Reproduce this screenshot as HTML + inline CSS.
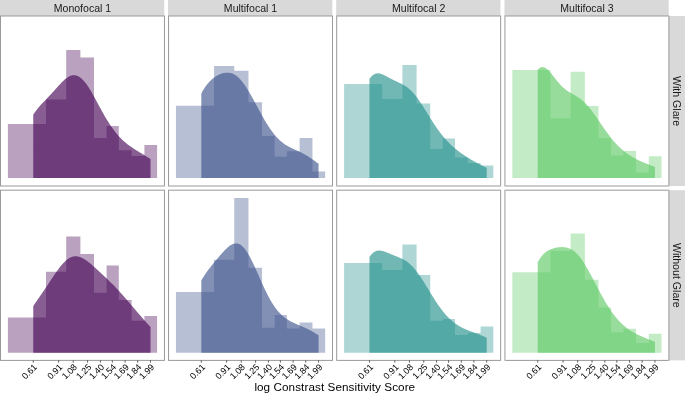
<!DOCTYPE html><html><head><meta charset="utf-8"><style>html,body{margin:0;padding:0;background:#fff}svg{display:block}text{font-family:"Liberation Sans",sans-serif}</style></head><body>
<svg width="685" height="394" viewBox="0 0 685 394">
<rect x="0" y="0" width="685" height="394" fill="#fff"/>
<rect x="0" y="0" width="164.25" height="16" fill="#d9d9d9"/>
<rect x="168.05" y="0" width="164.25" height="16" fill="#d9d9d9"/>
<rect x="336.2" y="0" width="164.25" height="16" fill="#d9d9d9"/>
<rect x="504.45" y="0" width="164.25" height="16" fill="#d9d9d9"/>
<rect x="668.9" y="16" width="16.1" height="170" fill="#d9d9d9"/>
<rect x="668.9" y="190.2" width="16.1" height="170.2" fill="#d9d9d9"/>
<path d="M7.9,178.05L7.9,124L46,124L46,99.6L66.2,99.6L66.2,49.9L80.4,49.9L80.4,57.6L94,57.6L94,137.9L106.6,137.9L106.6,126.1L118.8,126.1L118.8,150.3L131.6,150.3L131.6,155.9L144.4,155.9L144.4,145L157.1,145L157.1,178.05Z" fill="#440154" fill-opacity="0.37"/>
<path d="M33.26,178.05L33.26,114.54L34,113.46L34.73,112.41L35.47,111.4L36.21,110.42L36.95,109.47L37.68,108.55L38.42,107.65L39.16,106.78L39.9,105.93L40.63,105.11L41.37,104.3L42.11,103.5L42.85,102.71L43.58,101.94L44.32,101.17L45.06,100.4L45.8,99.64L46.53,98.88L47.27,98.12L48.01,97.35L48.74,96.58L49.48,95.8L50.22,95.02L50.96,94.22L51.69,93.43L52.43,92.62L53.17,91.81L53.91,90.99L54.64,90.17L55.38,89.34L56.12,88.52L56.86,87.69L57.59,86.86L58.33,86.04L59.07,85.23L59.8,84.43L60.54,83.64L61.28,82.87L62.02,82.11L62.75,81.38L63.49,80.67L64.23,80L64.97,79.35L65.7,78.74L66.44,78.17L67.18,77.64L67.92,77.15L68.65,76.72L69.39,76.33L70.13,75.99L70.87,75.71L71.6,75.49L72.34,75.32L73.08,75.22L73.81,75.18L74.55,75.2L75.29,75.28L76.03,75.43L76.76,75.64L77.5,75.92L78.24,76.27L78.98,76.67L79.71,77.15L80.45,77.68L81.19,78.28L81.93,78.94L82.66,79.66L83.4,80.43L84.14,81.26L84.88,82.15L85.61,83.08L86.35,84.07L87.09,85.1L87.82,86.18L88.56,87.29L89.3,88.44L90.04,89.63L90.77,90.85L91.51,92.1L92.25,93.38L92.99,94.68L93.72,95.99L94.46,97.33L95.2,98.68L95.94,100.03L96.67,101.4L97.41,102.77L98.15,104.14L98.88,105.51L99.62,106.88L100.36,108.24L101.1,109.6L101.83,110.94L102.57,112.28L103.31,113.59L104.05,114.9L104.78,116.18L105.52,117.45L106.26,118.69L107,119.92L107.73,121.12L108.47,122.3L109.21,123.46L109.95,124.59L110.68,125.69L111.42,126.77L112.16,127.83L112.89,128.86L113.63,129.86L114.37,130.84L115.11,131.79L115.84,132.71L116.58,133.61L117.32,134.49L118.06,135.34L118.79,136.16L119.53,136.96L120.27,137.74L121.01,138.5L121.74,139.23L122.48,139.94L123.22,140.63L123.96,141.3L124.69,141.95L125.43,142.59L126.17,143.2L126.9,143.8L127.64,144.38L128.38,144.95L129.12,145.5L129.85,146.04L130.59,146.56L131.33,147.08L132.07,147.58L132.8,148.07L133.54,148.55L134.28,149.03L135.02,149.5L135.75,149.96L136.49,150.42L137.23,150.87L137.96,151.32L138.7,151.76L139.44,152.21L140.18,152.65L140.91,153.09L141.65,153.54L142.39,153.98L143.13,154.43L143.86,154.87L144.6,155.32L145.34,155.78L146.08,156.24L146.81,156.7L147.55,157.16L148.29,157.63L149.03,158.1L149.76,158.58L150.5,159.06L150.5,178.05Z" fill="#440154" fill-opacity="0.64"/>
<path d="M0.5,15.5V186.5M164.45,15.5V186.5M1,16H163.95M1,186H163.95" fill="none" stroke="#999999" stroke-width="1.0"/>
<path d="M175.95,178.05L175.95,105.7L214.05,105.7L214.05,66.1L234.25,66.1L234.25,70.7L248.45,70.7L248.45,102.3L262.05,102.3L262.05,136.1L274.65,136.1L274.65,156.8L286.85,156.8L286.85,151.2L299.65,151.2L299.65,138L312.45,138L312.45,171.6L325.15,171.6L325.15,178.05Z" fill="#3B528B" fill-opacity="0.37"/>
<path d="M201.31,178.05L201.31,93.48L202.05,92.13L202.78,90.83L203.52,89.6L204.26,88.43L205,87.31L205.73,86.25L206.47,85.25L207.21,84.3L207.95,83.4L208.68,82.55L209.42,81.75L210.16,80.99L210.9,80.27L211.63,79.6L212.37,78.97L213.11,78.37L213.85,77.8L214.58,77.27L215.32,76.77L216.06,76.3L216.79,75.86L217.53,75.45L218.27,75.06L219.01,74.71L219.74,74.37L220.48,74.07L221.22,73.79L221.96,73.54L222.69,73.32L223.43,73.12L224.17,72.96L224.91,72.83L225.64,72.73L226.38,72.66L227.12,72.63L227.85,72.64L228.59,72.69L229.33,72.77L230.07,72.9L230.8,73.07L231.54,73.29L232.28,73.55L233.02,73.86L233.75,74.21L234.49,74.61L235.23,75.07L235.97,75.57L236.7,76.12L237.44,76.72L238.18,77.36L238.92,78.06L239.65,78.81L240.39,79.6L241.13,80.44L241.86,81.32L242.6,82.25L243.34,83.22L244.08,84.23L244.81,85.28L245.55,86.36L246.29,87.48L247.03,88.63L247.76,89.82L248.5,91.03L249.24,92.26L249.98,93.52L250.71,94.81L251.45,96.11L252.19,97.42L252.93,98.75L253.66,100.1L254.4,101.45L255.14,102.81L255.87,104.17L256.61,105.54L257.35,106.91L258.09,108.28L258.82,109.64L259.56,110.99L260.3,112.34L261.04,113.68L261.77,115.01L262.51,116.32L263.25,117.62L263.99,118.91L264.72,120.17L265.46,121.42L266.2,122.64L266.93,123.84L267.67,125.02L268.41,126.17L269.15,127.3L269.88,128.4L270.62,129.48L271.36,130.52L272.1,131.53L272.83,132.52L273.57,133.48L274.31,134.4L275.05,135.29L275.78,136.16L276.52,136.99L277.26,137.79L278,138.56L278.73,139.29L279.47,140L280.21,140.68L280.94,141.33L281.68,141.95L282.42,142.55L283.16,143.11L283.89,143.65L284.63,144.17L285.37,144.67L286.11,145.14L286.84,145.59L287.58,146.02L288.32,146.44L289.06,146.84L289.79,147.22L290.53,147.59L291.27,147.96L292.01,148.31L292.74,148.65L293.48,148.99L294.22,149.32L294.95,149.65L295.69,149.98L296.43,150.31L297.17,150.64L297.9,150.98L298.64,151.32L299.38,151.66L300.12,152.01L300.85,152.37L301.59,152.74L302.33,153.11L303.07,153.5L303.8,153.89L304.54,154.3L305.28,154.72L306.01,155.14L306.75,155.58L307.49,156.03L308.23,156.49L308.96,156.97L309.7,157.45L310.44,157.94L311.18,158.44L311.91,158.95L312.65,159.47L313.39,159.99L314.13,160.52L314.86,161.05L315.6,161.59L316.34,162.13L317.08,162.67L317.81,163.21L318.55,163.75L318.55,178.05Z" fill="#3B528B" fill-opacity="0.64"/>
<path d="M168.55,15.5V186.5M332.5,15.5V186.5M169.05,16H332M169.05,186H332" fill="none" stroke="#999999" stroke-width="1.0"/>
<path d="M344.1,178.05L344.1,83.9L382.2,83.9L382.2,98.9L402.4,98.9L402.4,64.9L416.6,64.9L416.6,103.5L430.2,103.5L430.2,149L442.8,149L442.8,138.4L455,138.4L455,157.6L467.8,157.6L467.8,163.1L480.6,163.1L480.6,165.5L493.3,165.5L493.3,178.05Z" fill="#21908C" fill-opacity="0.37"/>
<path d="M369.46,178.05L369.46,78.99L370.2,77.98L370.93,77.08L371.67,76.28L372.41,75.59L373.15,74.99L373.88,74.5L374.62,74.1L375.36,73.78L376.1,73.56L376.83,73.41L377.57,73.34L378.31,73.34L379.05,73.4L379.78,73.52L380.52,73.69L381.26,73.91L382,74.17L382.73,74.47L383.47,74.79L384.21,75.14L384.94,75.51L385.68,75.89L386.42,76.29L387.16,76.69L387.89,77.09L388.63,77.5L389.37,77.9L390.11,78.3L390.84,78.69L391.58,79.08L392.32,79.46L393.06,79.83L393.79,80.2L394.53,80.55L395.27,80.91L396,81.25L396.74,81.6L397.48,81.94L398.22,82.28L398.95,82.63L399.69,82.98L400.43,83.33L401.17,83.7L401.9,84.08L402.64,84.47L403.38,84.88L404.12,85.31L404.85,85.77L405.59,86.24L406.33,86.74L407.07,87.27L407.8,87.83L408.54,88.42L409.28,89.04L410.01,89.7L410.75,90.39L411.49,91.11L412.23,91.87L412.96,92.66L413.7,93.48L414.44,94.34L415.18,95.23L415.91,96.15L416.65,97.1L417.39,98.09L418.13,99.1L418.86,100.13L419.6,101.2L420.34,102.28L421.08,103.39L421.81,104.51L422.55,105.65L423.29,106.8L424.02,107.97L424.76,109.15L425.5,110.33L426.24,111.53L426.97,112.72L427.71,113.92L428.45,115.11L429.19,116.3L429.92,117.49L430.66,118.67L431.4,119.84L432.14,121.01L432.87,122.16L433.61,123.3L434.35,124.42L435.08,125.53L435.82,126.62L436.56,127.7L437.3,128.76L438.03,129.8L438.77,130.82L439.51,131.82L440.25,132.8L440.98,133.76L441.72,134.7L442.46,135.61L443.2,136.51L443.93,137.39L444.67,138.25L445.41,139.09L446.15,139.91L446.88,140.71L447.62,141.49L448.36,142.25L449.09,143L449.83,143.73L450.57,144.44L451.31,145.13L452.04,145.81L452.78,146.48L453.52,147.13L454.26,147.77L454.99,148.39L455.73,149L456.47,149.6L457.21,150.19L457.94,150.77L458.68,151.33L459.42,151.89L460.16,152.44L460.89,152.97L461.63,153.5L462.37,154.02L463.1,154.53L463.84,155.03L464.58,155.53L465.32,156.02L466.05,156.5L466.79,156.97L467.53,157.44L468.27,157.9L469,158.35L469.74,158.8L470.48,159.24L471.22,159.68L471.95,160.11L472.69,160.54L473.43,160.96L474.16,161.38L474.9,161.8L475.64,162.2L476.38,162.61L477.11,163.01L477.85,163.41L478.59,163.8L479.33,164.19L480.06,164.57L480.8,164.95L481.54,165.33L482.28,165.7L483.01,166.07L483.75,166.44L484.49,166.8L485.23,167.16L485.96,167.51L486.7,167.86L486.7,178.05Z" fill="#21908C" fill-opacity="0.64"/>
<path d="M336.7,15.5V186.5M500.65,15.5V186.5M337.2,16H500.15M337.2,186H500.15" fill="none" stroke="#999999" stroke-width="1.0"/>
<path d="M512.35,178.05L512.35,70L550.45,70L550.45,118.3L570.65,118.3L570.65,71.7L584.85,71.7L584.85,106L598.45,106L598.45,138.1L611.05,138.1L611.05,155.5L623.25,155.5L623.25,151.1L636.05,151.1L636.05,172.6L648.85,172.6L648.85,156.2L661.55,156.2L661.55,178.05Z" fill="#5DC863" fill-opacity="0.37"/>
<path d="M537.71,178.05L537.71,69.73L538.45,68.95L539.18,68.31L539.92,67.8L540.66,67.42L541.4,67.18L542.13,67.06L542.87,67.06L543.61,67.18L544.35,67.4L545.08,67.73L545.82,68.16L546.56,68.67L547.3,69.26L548.03,69.92L548.77,70.65L549.51,71.43L550.25,72.27L550.98,73.14L551.72,74.04L552.46,74.97L553.19,75.91L553.93,76.86L554.67,77.82L555.41,78.77L556.14,79.71L556.88,80.64L557.62,81.56L558.36,82.44L559.09,83.31L559.83,84.14L560.57,84.95L561.31,85.72L562.04,86.46L562.78,87.17L563.52,87.84L564.25,88.48L564.99,89.08L565.73,89.66L566.47,90.21L567.2,90.73L567.94,91.23L568.68,91.71L569.42,92.16L570.15,92.61L570.89,93.04L571.63,93.46L572.37,93.87L573.1,94.29L573.84,94.7L574.58,95.12L575.32,95.55L576.05,95.99L576.79,96.44L577.53,96.9L578.26,97.39L579,97.89L579.74,98.42L580.48,98.97L581.21,99.54L581.95,100.14L582.69,100.77L583.43,101.43L584.16,102.12L584.9,102.84L585.64,103.58L586.38,104.35L587.11,105.16L587.85,105.99L588.59,106.85L589.33,107.73L590.06,108.64L590.8,109.57L591.54,110.52L592.27,111.5L593.01,112.49L593.75,113.5L594.49,114.53L595.22,115.57L595.96,116.62L596.7,117.69L597.44,118.76L598.17,119.83L598.91,120.92L599.65,122L600.39,123.08L601.12,124.17L601.86,125.25L602.6,126.33L603.33,127.4L604.07,128.46L604.81,129.52L605.55,130.56L606.28,131.59L607.02,132.62L607.76,133.62L608.5,134.61L609.23,135.59L609.97,136.55L610.71,137.49L611.45,138.42L612.18,139.33L612.92,140.21L613.66,141.08L614.4,141.93L615.13,142.76L615.87,143.57L616.61,144.36L617.34,145.13L618.08,145.89L618.82,146.62L619.56,147.33L620.29,148.02L621.03,148.7L621.77,149.35L622.51,149.99L623.24,150.61L623.98,151.21L624.72,151.8L625.46,152.37L626.19,152.92L626.93,153.46L627.67,153.98L628.41,154.49L629.14,154.98L629.88,155.46L630.62,155.92L631.35,156.38L632.09,156.82L632.83,157.25L633.57,157.66L634.3,158.07L635.04,158.46L635.78,158.85L636.52,159.23L637.25,159.6L637.99,159.96L638.73,160.31L639.47,160.65L640.2,160.99L640.94,161.32L641.68,161.64L642.41,161.96L643.15,162.28L643.89,162.59L644.63,162.89L645.36,163.19L646.1,163.49L646.84,163.79L647.58,164.08L648.31,164.37L649.05,164.66L649.79,164.95L650.53,165.24L651.26,165.52L652,165.81L652.74,166.1L653.48,166.38L654.21,166.67L654.95,166.95L654.95,178.05Z" fill="#5DC863" fill-opacity="0.64"/>
<path d="M504.95,15.5V186.5M668.9,15.5V186.5M505.45,16H668.4M505.45,186H668.4" fill="none" stroke="#999999" stroke-width="1.0"/>
<path d="M7.9,352.65L7.9,317.6L46,317.6L46,271.8L66.2,271.8L66.2,236.5L80.4,236.5L80.4,254L94,254L94,292.7L106.6,292.7L106.6,265.6L118.8,265.6L118.8,300L131.6,300L131.6,320.7L144.4,320.7L144.4,316L157.1,316L157.1,352.65Z" fill="#440154" fill-opacity="0.37"/>
<path d="M33.26,352.65L33.26,306.05L34,304.96L34.73,303.87L35.47,302.79L36.21,301.72L36.95,300.64L37.68,299.57L38.42,298.5L39.16,297.44L39.9,296.37L40.63,295.3L41.37,294.22L42.11,293.15L42.85,292.07L43.58,290.99L44.32,289.9L45.06,288.81L45.8,287.72L46.53,286.62L47.27,285.52L48.01,284.41L48.74,283.3L49.48,282.19L50.22,281.07L50.96,279.96L51.69,278.85L52.43,277.74L53.17,276.63L53.91,275.53L54.64,274.44L55.38,273.36L56.12,272.3L56.86,271.25L57.59,270.22L58.33,269.2L59.07,268.21L59.8,267.25L60.54,266.32L61.28,265.41L62.02,264.54L62.75,263.7L63.49,262.9L64.23,262.14L64.97,261.42L65.7,260.74L66.44,260.11L67.18,259.52L67.92,258.98L68.65,258.49L69.39,258.05L70.13,257.65L70.87,257.31L71.6,257.02L72.34,256.77L73.08,256.58L73.81,256.44L74.55,256.35L75.29,256.3L76.03,256.31L76.76,256.36L77.5,256.45L78.24,256.59L78.98,256.77L79.71,256.99L80.45,257.25L81.19,257.55L81.93,257.89L82.66,258.26L83.4,258.66L84.14,259.08L84.88,259.54L85.61,260.03L86.35,260.53L87.09,261.06L87.82,261.61L88.56,262.18L89.3,262.76L90.04,263.36L90.77,263.98L91.51,264.6L92.25,265.24L92.99,265.88L93.72,266.53L94.46,267.19L95.2,267.85L95.94,268.52L96.67,269.19L97.41,269.87L98.15,270.54L98.88,271.22L99.62,271.91L100.36,272.59L101.1,273.27L101.83,273.96L102.57,274.65L103.31,275.34L104.05,276.03L104.78,276.73L105.52,277.42L106.26,278.12L107,278.82L107.73,279.53L108.47,280.24L109.21,280.96L109.95,281.67L110.68,282.4L111.42,283.13L112.16,283.86L112.89,284.61L113.63,285.35L114.37,286.11L115.11,286.87L115.84,287.64L116.58,288.42L117.32,289.2L118.06,289.99L118.79,290.79L119.53,291.59L120.27,292.4L121.01,293.22L121.74,294.05L122.48,294.87L123.22,295.71L123.96,296.55L124.69,297.39L125.43,298.24L126.17,299.1L126.9,299.95L127.64,300.81L128.38,301.67L129.12,302.53L129.85,303.4L130.59,304.26L131.33,305.13L132.07,305.99L132.8,306.86L133.54,307.72L134.28,308.59L135.02,309.45L135.75,310.31L136.49,311.17L137.23,312.03L137.96,312.89L138.7,313.74L139.44,314.6L140.18,315.45L140.91,316.3L141.65,317.14L142.39,317.98L143.13,318.82L143.86,319.66L144.6,320.49L145.34,321.33L146.08,322.15L146.81,322.98L147.55,323.8L148.29,324.62L149.03,325.43L149.76,326.24L150.5,327.05L150.5,352.65Z" fill="#440154" fill-opacity="0.64"/>
<path d="M0.5,189.7V360.9M164.45,189.7V360.9M1,190.2H163.95M1,360.4H163.95" fill="none" stroke="#999999" stroke-width="1.0"/>
<path d="M175.95,352.65L175.95,292.1L214.05,292.1L214.05,259.8L234.25,259.8L234.25,197.9L248.45,197.9L248.45,267.7L262.05,267.7L262.05,327.7L274.65,327.7L274.65,315.1L286.85,315.1L286.85,328.4L299.65,328.4L299.65,322.6L312.45,322.6L312.45,328.6L325.15,328.6L325.15,352.65Z" fill="#3B528B" fill-opacity="0.37"/>
<path d="M201.31,352.65L201.31,280.6L202.05,279.32L202.78,278.09L203.52,276.89L204.26,275.72L205,274.59L205.73,273.49L206.47,272.42L207.21,271.37L207.95,270.36L208.68,269.36L209.42,268.39L210.16,267.43L210.9,266.49L211.63,265.56L212.37,264.65L213.11,263.74L213.85,262.84L214.58,261.95L215.32,261.07L216.06,260.19L216.79,259.31L217.53,258.44L218.27,257.57L219.01,256.7L219.74,255.84L220.48,254.99L221.22,254.15L221.96,253.31L222.69,252.49L223.43,251.68L224.17,250.89L224.91,250.11L225.64,249.37L226.38,248.64L227.12,247.95L227.85,247.3L228.59,246.68L229.33,246.1L230.07,245.57L230.8,245.09L231.54,244.66L232.28,244.29L233.02,243.97L233.75,243.73L234.49,243.54L235.23,243.43L235.97,243.39L236.7,243.42L237.44,243.53L238.18,243.71L238.92,243.98L239.65,244.32L240.39,244.75L241.13,245.25L241.86,245.83L242.6,246.5L243.34,247.24L244.08,248.05L244.81,248.95L245.55,249.91L246.29,250.95L247.03,252.05L247.76,253.22L248.5,254.45L249.24,255.74L249.98,257.09L250.71,258.48L251.45,259.93L252.19,261.41L252.93,262.93L253.66,264.49L254.4,266.08L255.14,267.69L255.87,269.33L256.61,270.98L257.35,272.64L258.09,274.31L258.82,275.99L259.56,277.66L260.3,279.33L261.04,280.99L261.77,282.64L262.51,284.28L263.25,285.89L263.99,287.49L264.72,289.06L265.46,290.6L266.2,292.11L266.93,293.59L267.67,295.04L268.41,296.45L269.15,297.83L269.88,299.17L270.62,300.46L271.36,301.72L272.1,302.94L272.83,304.11L273.57,305.24L274.31,306.33L275.05,307.38L275.78,308.39L276.52,309.36L277.26,310.28L278,311.17L278.73,312.02L279.47,312.83L280.21,313.6L280.94,314.34L281.68,315.04L282.42,315.71L283.16,316.35L283.89,316.95L284.63,317.53L285.37,318.08L286.11,318.61L286.84,319.11L287.58,319.59L288.32,320.04L289.06,320.48L289.79,320.9L290.53,321.3L291.27,321.68L292.01,322.05L292.74,322.41L293.48,322.76L294.22,323.1L294.95,323.43L295.69,323.76L296.43,324.07L297.17,324.39L297.9,324.7L298.64,325.01L299.38,325.32L300.12,325.63L300.85,325.94L301.59,326.25L302.33,326.57L303.07,326.89L303.8,327.21L304.54,327.55L305.28,327.88L306.01,328.23L306.75,328.58L307.49,328.94L308.23,329.3L308.96,329.68L309.7,330.06L310.44,330.45L311.18,330.85L311.91,331.26L312.65,331.68L313.39,332.11L314.13,332.54L314.86,332.99L315.6,333.44L316.34,333.9L317.08,334.36L317.81,334.83L318.55,335.31L318.55,352.65Z" fill="#3B528B" fill-opacity="0.64"/>
<path d="M168.55,189.7V360.9M332.5,189.7V360.9M169.05,190.2H332M169.05,360.4H332" fill="none" stroke="#999999" stroke-width="1.0"/>
<path d="M344.1,352.65L344.1,262.9L382.2,262.9L382.2,269.9L402.4,269.9L402.4,244.5L416.6,244.5L416.6,274.9L430.2,274.9L430.2,320.8L442.8,320.8L442.8,318.9L455,318.9L455,334.9L467.8,334.9L467.8,333.1L480.6,333.1L480.6,326.6L493.3,326.6L493.3,352.65Z" fill="#21908C" fill-opacity="0.37"/>
<path d="M369.46,352.65L369.46,257.06L370.2,256.02L370.93,255.08L371.67,254.24L372.41,253.49L373.15,252.84L373.88,252.27L374.62,251.8L375.36,251.41L376.1,251.09L376.83,250.86L377.57,250.69L378.31,250.59L379.05,250.55L379.78,250.56L380.52,250.63L381.26,250.74L382,250.88L382.73,251.07L383.47,251.28L384.21,251.52L384.94,251.77L385.68,252.05L386.42,252.33L387.16,252.63L387.89,252.93L388.63,253.24L389.37,253.55L390.11,253.85L390.84,254.16L391.58,254.46L392.32,254.76L393.06,255.06L393.79,255.36L394.53,255.65L395.27,255.94L396,256.23L396.74,256.52L397.48,256.82L398.22,257.12L398.95,257.42L399.69,257.74L400.43,258.06L401.17,258.4L401.9,258.75L402.64,259.12L403.38,259.51L404.12,259.92L404.85,260.36L405.59,260.82L406.33,261.31L407.07,261.83L407.8,262.37L408.54,262.95L409.28,263.56L410.01,264.21L410.75,264.88L411.49,265.59L412.23,266.34L412.96,267.12L413.7,267.94L414.44,268.78L415.18,269.66L415.91,270.58L416.65,271.52L417.39,272.49L418.13,273.5L418.86,274.53L419.6,275.58L420.34,276.66L421.08,277.76L421.81,278.89L422.55,280.03L423.29,281.18L424.02,282.35L424.76,283.54L425.5,284.73L426.24,285.93L426.97,287.14L427.71,288.35L428.45,289.56L429.19,290.78L429.92,291.99L430.66,293.2L431.4,294.4L432.14,295.59L432.87,296.78L433.61,297.95L434.35,299.11L435.08,300.26L435.82,301.39L436.56,302.51L437.3,303.61L438.03,304.69L438.77,305.75L439.51,306.79L440.25,307.81L440.98,308.81L441.72,309.78L442.46,310.73L443.2,311.66L443.93,312.57L444.67,313.45L445.41,314.3L446.15,315.13L446.88,315.94L447.62,316.72L448.36,317.48L449.09,318.22L449.83,318.93L450.57,319.62L451.31,320.28L452.04,320.92L452.78,321.54L453.52,322.14L454.26,322.71L454.99,323.26L455.73,323.8L456.47,324.31L457.21,324.8L457.94,325.28L458.68,325.74L459.42,326.17L460.16,326.6L460.89,327L461.63,327.4L462.37,327.77L463.1,328.14L463.84,328.49L464.58,328.83L465.32,329.16L466.05,329.48L466.79,329.79L467.53,330.09L468.27,330.39L469,330.68L469.74,330.96L470.48,331.24L471.22,331.52L471.95,331.79L472.69,332.06L473.43,332.33L474.16,332.6L474.9,332.88L475.64,333.15L476.38,333.42L477.11,333.7L477.85,333.98L478.59,334.27L479.33,334.56L480.06,334.86L480.8,335.16L481.54,335.47L482.28,335.78L483.01,336.1L483.75,336.42L484.49,336.76L485.23,337.09L485.96,337.44L486.7,337.79L486.7,352.65Z" fill="#21908C" fill-opacity="0.64"/>
<path d="M336.7,189.7V360.9M500.65,189.7V360.9M337.2,190.2H500.15M337.2,360.4H500.15" fill="none" stroke="#999999" stroke-width="1.0"/>
<path d="M512.35,352.65L512.35,272.2L550.45,272.2L550.45,250.9L570.65,250.9L570.65,233.4L584.85,233.4L584.85,279.8L598.45,279.8L598.45,307.5L611.05,307.5L611.05,332.3L623.25,332.3L623.25,328.8L636.05,328.8L636.05,343L648.85,343L648.85,333.8L661.55,333.8L661.55,352.65Z" fill="#5DC863" fill-opacity="0.37"/>
<path d="M537.71,352.65L537.71,262.18L538.45,260.92L539.18,259.73L539.92,258.61L540.66,257.56L541.4,256.59L542.13,255.69L542.87,254.85L543.61,254.08L544.35,253.36L545.08,252.71L545.82,252.11L546.56,251.56L547.3,251.07L548.03,250.61L548.77,250.2L549.51,249.83L550.25,249.49L550.98,249.18L551.72,248.9L552.46,248.65L553.19,248.42L553.93,248.21L554.67,248.03L555.41,247.86L556.14,247.71L556.88,247.58L557.62,247.46L558.36,247.36L559.09,247.27L559.83,247.21L560.57,247.16L561.31,247.12L562.04,247.11L562.78,247.12L563.52,247.15L564.25,247.21L564.99,247.29L565.73,247.4L566.47,247.55L567.2,247.72L567.94,247.93L568.68,248.17L569.42,248.45L570.15,248.77L570.89,249.13L571.63,249.53L572.37,249.98L573.1,250.47L573.84,251.01L574.58,251.59L575.32,252.22L576.05,252.9L576.79,253.62L577.53,254.39L578.26,255.2L579,256.06L579.74,256.97L580.48,257.92L581.21,258.91L581.95,259.94L582.69,261.01L583.43,262.12L584.16,263.26L584.9,264.44L585.64,265.65L586.38,266.89L587.11,268.16L587.85,269.45L588.59,270.76L589.33,272.1L590.06,273.45L590.8,274.82L591.54,276.2L592.27,277.59L593.01,278.99L593.75,280.4L594.49,281.81L595.22,283.22L595.96,284.64L596.7,286.05L597.44,287.45L598.17,288.86L598.91,290.25L599.65,291.63L600.39,293.01L601.12,294.37L601.86,295.71L602.6,297.05L603.33,298.36L604.07,299.66L604.81,300.93L605.55,302.19L606.28,303.43L607.02,304.64L607.76,305.83L608.5,307L609.23,308.15L609.97,309.27L610.71,310.36L611.45,311.43L612.18,312.48L612.92,313.5L613.66,314.49L614.4,315.46L615.13,316.4L615.87,317.31L616.61,318.2L617.34,319.07L618.08,319.9L618.82,320.72L619.56,321.51L620.29,322.27L621.03,323.01L621.77,323.72L622.51,324.42L623.24,325.09L623.98,325.73L624.72,326.36L625.46,326.97L626.19,327.55L626.93,328.12L627.67,328.66L628.41,329.19L629.14,329.7L629.88,330.2L630.62,330.68L631.35,331.14L632.09,331.59L632.83,332.02L633.57,332.45L634.3,332.86L635.04,333.25L635.78,333.64L636.52,334.02L637.25,334.38L637.99,334.74L638.73,335.09L639.47,335.44L640.2,335.77L640.94,336.1L641.68,336.43L642.41,336.74L643.15,337.06L643.89,337.37L644.63,337.68L645.36,337.98L646.1,338.28L646.84,338.58L647.58,338.88L648.31,339.18L649.05,339.47L649.79,339.77L650.53,340.06L651.26,340.36L652,340.65L652.74,340.95L653.48,341.24L654.21,341.54L654.95,341.83L654.95,352.65Z" fill="#5DC863" fill-opacity="0.64"/>
<path d="M504.95,189.7V360.9M668.9,189.7V360.9M505.45,190.2H668.4M505.45,360.4H668.4" fill="none" stroke="#999999" stroke-width="1.0"/>
<line x1="33.26" y1="360.4" x2="33.26" y2="362.6" stroke="#333" stroke-width="0.8"/>
<line x1="58.6" y1="360.4" x2="58.6" y2="362.6" stroke="#333" stroke-width="0.8"/>
<line x1="73.22" y1="360.4" x2="73.22" y2="362.6" stroke="#333" stroke-width="0.8"/>
<line x1="87.55" y1="360.4" x2="87.55" y2="362.6" stroke="#333" stroke-width="0.8"/>
<line x1="100.38" y1="360.4" x2="100.38" y2="362.6" stroke="#333" stroke-width="0.8"/>
<line x1="112.35" y1="360.4" x2="112.35" y2="362.6" stroke="#333" stroke-width="0.8"/>
<line x1="125.1" y1="360.4" x2="125.1" y2="362.6" stroke="#333" stroke-width="0.8"/>
<line x1="137.7" y1="360.4" x2="137.7" y2="362.6" stroke="#333" stroke-width="0.8"/>
<line x1="150.5" y1="360.4" x2="150.5" y2="362.6" stroke="#333" stroke-width="0.8"/>
<line x1="201.31" y1="360.4" x2="201.31" y2="362.6" stroke="#333" stroke-width="0.8"/>
<line x1="226.65" y1="360.4" x2="226.65" y2="362.6" stroke="#333" stroke-width="0.8"/>
<line x1="241.27" y1="360.4" x2="241.27" y2="362.6" stroke="#333" stroke-width="0.8"/>
<line x1="255.6" y1="360.4" x2="255.6" y2="362.6" stroke="#333" stroke-width="0.8"/>
<line x1="268.43" y1="360.4" x2="268.43" y2="362.6" stroke="#333" stroke-width="0.8"/>
<line x1="280.4" y1="360.4" x2="280.4" y2="362.6" stroke="#333" stroke-width="0.8"/>
<line x1="293.15" y1="360.4" x2="293.15" y2="362.6" stroke="#333" stroke-width="0.8"/>
<line x1="305.75" y1="360.4" x2="305.75" y2="362.6" stroke="#333" stroke-width="0.8"/>
<line x1="318.55" y1="360.4" x2="318.55" y2="362.6" stroke="#333" stroke-width="0.8"/>
<line x1="369.46" y1="360.4" x2="369.46" y2="362.6" stroke="#333" stroke-width="0.8"/>
<line x1="394.8" y1="360.4" x2="394.8" y2="362.6" stroke="#333" stroke-width="0.8"/>
<line x1="409.42" y1="360.4" x2="409.42" y2="362.6" stroke="#333" stroke-width="0.8"/>
<line x1="423.75" y1="360.4" x2="423.75" y2="362.6" stroke="#333" stroke-width="0.8"/>
<line x1="436.58" y1="360.4" x2="436.58" y2="362.6" stroke="#333" stroke-width="0.8"/>
<line x1="448.55" y1="360.4" x2="448.55" y2="362.6" stroke="#333" stroke-width="0.8"/>
<line x1="461.3" y1="360.4" x2="461.3" y2="362.6" stroke="#333" stroke-width="0.8"/>
<line x1="473.9" y1="360.4" x2="473.9" y2="362.6" stroke="#333" stroke-width="0.8"/>
<line x1="486.7" y1="360.4" x2="486.7" y2="362.6" stroke="#333" stroke-width="0.8"/>
<line x1="537.71" y1="360.4" x2="537.71" y2="362.6" stroke="#333" stroke-width="0.8"/>
<line x1="563.05" y1="360.4" x2="563.05" y2="362.6" stroke="#333" stroke-width="0.8"/>
<line x1="577.67" y1="360.4" x2="577.67" y2="362.6" stroke="#333" stroke-width="0.8"/>
<line x1="592" y1="360.4" x2="592" y2="362.6" stroke="#333" stroke-width="0.8"/>
<line x1="604.83" y1="360.4" x2="604.83" y2="362.6" stroke="#333" stroke-width="0.8"/>
<line x1="616.8" y1="360.4" x2="616.8" y2="362.6" stroke="#333" stroke-width="0.8"/>
<line x1="629.55" y1="360.4" x2="629.55" y2="362.6" stroke="#333" stroke-width="0.8"/>
<line x1="642.15" y1="360.4" x2="642.15" y2="362.6" stroke="#333" stroke-width="0.8"/>
<line x1="654.95" y1="360.4" x2="654.95" y2="362.6" stroke="#333" stroke-width="0.8"/>
<g style="will-change:transform"><text x="82.47" y="11.6" font-size="10.55" fill="#1a1a1a" text-anchor="middle">Monofocal 1</text><text x="250.53" y="11.6" font-size="10.55" fill="#1a1a1a" text-anchor="middle">Multifocal 1</text><text x="418.67" y="11.6" font-size="10.55" fill="#1a1a1a" text-anchor="middle">Multifocal 2</text><text x="586.92" y="11.6" font-size="10.55" fill="#1a1a1a" text-anchor="middle">Multifocal 3</text><text transform="translate(672.8,101) rotate(90)" font-size="10.6" fill="#1a1a1a" text-anchor="middle">With Glare</text><text transform="translate(672.8,275.3) rotate(90)" font-size="10.6" fill="#1a1a1a" text-anchor="middle">Without Glare</text><text transform="translate(33.01,363.3) rotate(-45)" font-size="9.0" letter-spacing="-0.15" fill="#000" text-anchor="end" dominant-baseline="hanging">0.61</text><text transform="translate(58.35,363.3) rotate(-45)" font-size="9.0" letter-spacing="-0.15" fill="#000" text-anchor="end" dominant-baseline="hanging">0.91</text><text transform="translate(72.97,363.3) rotate(-45)" font-size="9.0" letter-spacing="-0.15" fill="#000" text-anchor="end" dominant-baseline="hanging">1.08</text><text transform="translate(87.3,363.3) rotate(-45)" font-size="9.0" letter-spacing="-0.15" fill="#000" text-anchor="end" dominant-baseline="hanging">1.25</text><text transform="translate(100.13,363.3) rotate(-45)" font-size="9.0" letter-spacing="-0.15" fill="#000" text-anchor="end" dominant-baseline="hanging">1.40</text><text transform="translate(112.1,363.3) rotate(-45)" font-size="9.0" letter-spacing="-0.15" fill="#000" text-anchor="end" dominant-baseline="hanging">1.54</text><text transform="translate(124.85,363.3) rotate(-45)" font-size="9.0" letter-spacing="-0.15" fill="#000" text-anchor="end" dominant-baseline="hanging">1.69</text><text transform="translate(137.45,363.3) rotate(-45)" font-size="9.0" letter-spacing="-0.15" fill="#000" text-anchor="end" dominant-baseline="hanging">1.84</text><text transform="translate(150.25,363.3) rotate(-45)" font-size="9.0" letter-spacing="-0.15" fill="#000" text-anchor="end" dominant-baseline="hanging">1.99</text><text transform="translate(201.06,363.3) rotate(-45)" font-size="9.0" letter-spacing="-0.15" fill="#000" text-anchor="end" dominant-baseline="hanging">0.61</text><text transform="translate(226.4,363.3) rotate(-45)" font-size="9.0" letter-spacing="-0.15" fill="#000" text-anchor="end" dominant-baseline="hanging">0.91</text><text transform="translate(241.02,363.3) rotate(-45)" font-size="9.0" letter-spacing="-0.15" fill="#000" text-anchor="end" dominant-baseline="hanging">1.08</text><text transform="translate(255.35,363.3) rotate(-45)" font-size="9.0" letter-spacing="-0.15" fill="#000" text-anchor="end" dominant-baseline="hanging">1.25</text><text transform="translate(268.18,363.3) rotate(-45)" font-size="9.0" letter-spacing="-0.15" fill="#000" text-anchor="end" dominant-baseline="hanging">1.40</text><text transform="translate(280.15,363.3) rotate(-45)" font-size="9.0" letter-spacing="-0.15" fill="#000" text-anchor="end" dominant-baseline="hanging">1.54</text><text transform="translate(292.9,363.3) rotate(-45)" font-size="9.0" letter-spacing="-0.15" fill="#000" text-anchor="end" dominant-baseline="hanging">1.69</text><text transform="translate(305.5,363.3) rotate(-45)" font-size="9.0" letter-spacing="-0.15" fill="#000" text-anchor="end" dominant-baseline="hanging">1.84</text><text transform="translate(318.3,363.3) rotate(-45)" font-size="9.0" letter-spacing="-0.15" fill="#000" text-anchor="end" dominant-baseline="hanging">1.99</text><text transform="translate(369.21,363.3) rotate(-45)" font-size="9.0" letter-spacing="-0.15" fill="#000" text-anchor="end" dominant-baseline="hanging">0.61</text><text transform="translate(394.55,363.3) rotate(-45)" font-size="9.0" letter-spacing="-0.15" fill="#000" text-anchor="end" dominant-baseline="hanging">0.91</text><text transform="translate(409.17,363.3) rotate(-45)" font-size="9.0" letter-spacing="-0.15" fill="#000" text-anchor="end" dominant-baseline="hanging">1.08</text><text transform="translate(423.5,363.3) rotate(-45)" font-size="9.0" letter-spacing="-0.15" fill="#000" text-anchor="end" dominant-baseline="hanging">1.25</text><text transform="translate(436.33,363.3) rotate(-45)" font-size="9.0" letter-spacing="-0.15" fill="#000" text-anchor="end" dominant-baseline="hanging">1.40</text><text transform="translate(448.3,363.3) rotate(-45)" font-size="9.0" letter-spacing="-0.15" fill="#000" text-anchor="end" dominant-baseline="hanging">1.54</text><text transform="translate(461.05,363.3) rotate(-45)" font-size="9.0" letter-spacing="-0.15" fill="#000" text-anchor="end" dominant-baseline="hanging">1.69</text><text transform="translate(473.65,363.3) rotate(-45)" font-size="9.0" letter-spacing="-0.15" fill="#000" text-anchor="end" dominant-baseline="hanging">1.84</text><text transform="translate(486.45,363.3) rotate(-45)" font-size="9.0" letter-spacing="-0.15" fill="#000" text-anchor="end" dominant-baseline="hanging">1.99</text><text transform="translate(537.46,363.3) rotate(-45)" font-size="9.0" letter-spacing="-0.15" fill="#000" text-anchor="end" dominant-baseline="hanging">0.61</text><text transform="translate(562.8,363.3) rotate(-45)" font-size="9.0" letter-spacing="-0.15" fill="#000" text-anchor="end" dominant-baseline="hanging">0.91</text><text transform="translate(577.42,363.3) rotate(-45)" font-size="9.0" letter-spacing="-0.15" fill="#000" text-anchor="end" dominant-baseline="hanging">1.08</text><text transform="translate(591.75,363.3) rotate(-45)" font-size="9.0" letter-spacing="-0.15" fill="#000" text-anchor="end" dominant-baseline="hanging">1.25</text><text transform="translate(604.58,363.3) rotate(-45)" font-size="9.0" letter-spacing="-0.15" fill="#000" text-anchor="end" dominant-baseline="hanging">1.40</text><text transform="translate(616.55,363.3) rotate(-45)" font-size="9.0" letter-spacing="-0.15" fill="#000" text-anchor="end" dominant-baseline="hanging">1.54</text><text transform="translate(629.3,363.3) rotate(-45)" font-size="9.0" letter-spacing="-0.15" fill="#000" text-anchor="end" dominant-baseline="hanging">1.69</text><text transform="translate(641.9,363.3) rotate(-45)" font-size="9.0" letter-spacing="-0.15" fill="#000" text-anchor="end" dominant-baseline="hanging">1.84</text><text transform="translate(654.7,363.3) rotate(-45)" font-size="9.0" letter-spacing="-0.15" fill="#000" text-anchor="end" dominant-baseline="hanging">1.99</text><text x="334.8" y="391.1" font-size="11.7" letter-spacing="0.075" fill="#000" text-anchor="middle">log Constrast Sensitivity Score</text></g>
</svg></body></html>
